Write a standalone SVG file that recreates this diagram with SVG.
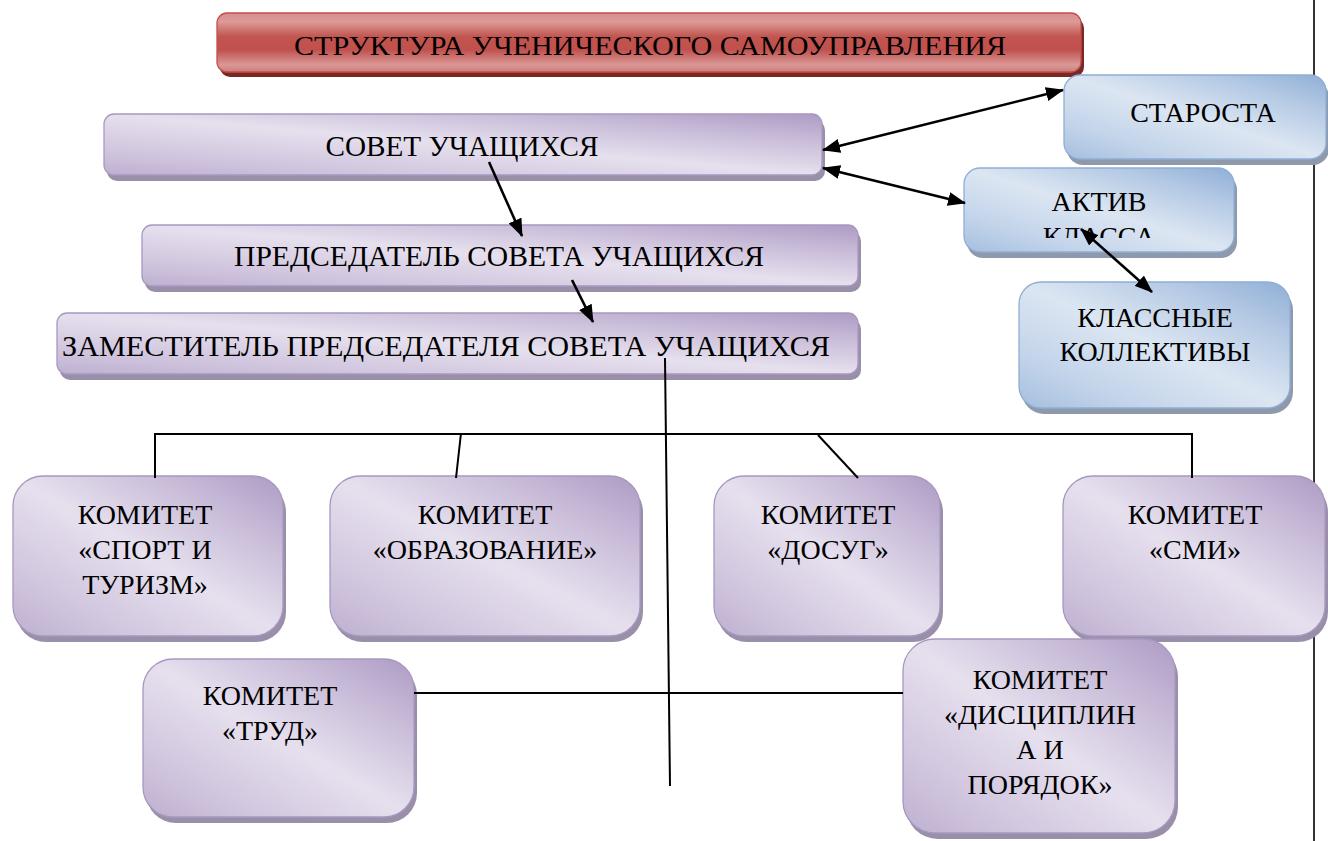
<svg xmlns="http://www.w3.org/2000/svg" width="1328" height="841" viewBox="0 0 1328 841">
<style>
.t{font-family:"Liberation Serif","Times New Roman",serif;font-size:28px;fill:#000;text-anchor:middle}
.tb{font-size:30px}
.bp{fill:url(#gP);stroke:#a898c0;stroke-width:1.3}
.sp{fill:#9a8fa9}
.bb{fill:url(#gB);stroke:#8eaed5;stroke-width:1.3}
.sb{fill:#8e9aab}
.ln{stroke:#000;fill:none;stroke-width:2}
.ar{stroke:#000;fill:none;stroke-width:2.6;marker-end:url(#ah);marker-start:url(#ah)}
.ar1{stroke:#000;fill:none;stroke-width:2.6;marker-end:url(#ah)}
</style>
<defs>
<linearGradient id="gP" x1="1" y1="0" x2="0" y2="1">
<stop offset="0" stop-color="#ad9bc4"/>
<stop offset="0.22" stop-color="#c8bbd8"/>
<stop offset="0.5" stop-color="#e6e0ee"/>
<stop offset="0.78" stop-color="#d2c7df"/>
<stop offset="1" stop-color="#beb0d1"/>
</linearGradient>
<linearGradient id="gB" x1="1" y1="0" x2="0" y2="1">
<stop offset="0" stop-color="#8fafd6"/>
<stop offset="0.22" stop-color="#b4c9e4"/>
<stop offset="0.5" stop-color="#dce6f2"/>
<stop offset="0.78" stop-color="#c3d4ea"/>
<stop offset="1" stop-color="#a5bfde"/>
</linearGradient>
<linearGradient id="gR" x1="0" y1="0" x2="0" y2="1">
<stop offset="0" stop-color="#d98f8d"/>
<stop offset="0.15" stop-color="#dc9a98"/>
<stop offset="0.4" stop-color="#c2554f"/>
<stop offset="0.62" stop-color="#c0504d"/>
<stop offset="0.88" stop-color="#d99896"/>
<stop offset="1" stop-color="#cf7b78"/>
</linearGradient>
<marker id="ah" markerUnits="userSpaceOnUse" markerWidth="18" markerHeight="14" viewBox="0 0 18 14" refX="17" refY="7" orient="auto-start-reverse">
<path d="M0,0 L18,7 L0,14 z" fill="#000"/>
</marker>
<clipPath id="clipAktiv"><rect x="964" y="168" width="270" height="70"/></clipPath>
</defs>
<rect x="0" y="0" width="1328" height="841" fill="#fff"/>
<line x1="1314" y1="0" x2="1314" y2="841" stroke="#000" stroke-width="1.6"/>

<g id="title">
<rect x="220" y="18" width="864" height="59" rx="10" fill="#7a2826"/>
<rect x="217" y="13" width="864" height="59" rx="10" fill="url(#gR)" stroke="#c0504d" stroke-width="1.3"/>
<text class="t" x="650" y="55" font-size="31" textLength="712" lengthAdjust="spacingAndGlyphs">СТРУКТУРА УЧЕНИЧЕСКОГО САМОУПРАВЛЕНИЯ</text>
</g>

<g id="sovet">
<rect class="sp" x="107" y="120" width="718" height="61" rx="10"/>
<rect class="bp" x="104" y="114" width="718" height="61" rx="10"/>
<text class="t tb" x="462" y="156" textLength="273" lengthAdjust="spacingAndGlyphs">СОВЕТ УЧАЩИХСЯ</text>
</g>

<g id="predsedatel">
<rect class="sp" x="145" y="231" width="716" height="61" rx="10"/>
<rect class="bp" x="142" y="225" width="716" height="61" rx="10"/>
<text class="t tb" x="499" y="266" textLength="530" lengthAdjust="spacingAndGlyphs">ПРЕДСЕДАТЕЛЬ СОВЕТА УЧАЩИХСЯ</text>
</g>

<g id="zamestitel">
<rect class="sp" x="60" y="319" width="801" height="61" rx="10"/>
<rect class="bp" x="57" y="313" width="801" height="61" rx="10"/>
<text class="t tb" x="446" y="356" textLength="768" lengthAdjust="spacingAndGlyphs">ЗАМЕСТИТЕЛЬ ПРЕДСЕДАТЕЛЯ СОВЕТА УЧАЩИХСЯ</text>
</g>

<g id="starosta">
<rect class="sb" x="1067" y="81" width="262" height="84" rx="16"/>
<rect class="bb" x="1064" y="75" width="262" height="84" rx="16"/>
<text class="t" x="1203" y="122">СТАРОСТА</text>
</g>

<g id="aktiv">
<rect class="sb" x="967" y="174" width="270" height="84" rx="16"/>
<rect class="bb" x="964" y="168" width="270" height="84" rx="16"/>
<text class="t" x="1099" y="211">АКТИВ</text>
<text class="t" x="1099" y="246" clip-path="url(#clipAktiv)">КЛАССА</text>
</g>

<g id="klassnye">
<rect class="sb" x="1022" y="288" width="271" height="126" rx="22"/>
<rect class="bb" x="1019" y="282" width="271" height="126" rx="22"/>
<text class="t" x="1155" y="327">КЛАССНЫЕ</text>
<text class="t" x="1155" y="361">КОЛЛЕКТИВЫ</text>
</g>

<g id="sport">
<rect class="sp" x="16" y="482" width="270" height="160" rx="30"/>
<rect class="bp" x="13" y="476" width="270" height="160" rx="30"/>
<text class="t" x="145" y="524">КОМИТЕТ</text>
<text class="t" x="145" y="559">«СПОРТ И</text>
<text class="t" x="145" y="594">ТУРИЗМ»</text>
</g>

<g id="obrazovanie">
<rect class="sp" x="333" y="482" width="310" height="160" rx="30"/>
<rect class="bp" x="330" y="476" width="310" height="160" rx="30"/>
<text class="t" x="485" y="524">КОМИТЕТ</text>
<text class="t" x="485" y="559">«ОБРАЗОВАНИЕ»</text>
</g>

<g id="dosug">
<rect class="sp" x="717" y="482" width="226" height="160" rx="30"/>
<rect class="bp" x="714" y="476" width="226" height="160" rx="30"/>
<text class="t" x="828" y="524">КОМИТЕТ</text>
<text class="t" x="828" y="559">«ДОСУГ»</text>
</g>

<g id="smi">
<rect class="sp" x="1066" y="482" width="262" height="160" rx="30"/>
<rect class="bp" x="1063" y="476" width="262" height="160" rx="30"/>
<text class="t" x="1195" y="524">КОМИТЕТ</text>
<text class="t" x="1195" y="559">«СМИ»</text>
</g>

<g id="trud">
<rect class="sp" x="146" y="665" width="271" height="158" rx="30"/>
<rect class="bp" x="143" y="659" width="271" height="158" rx="30"/>
<text class="t" x="270" y="705">КОМИТЕТ</text>
<text class="t" x="270" y="740">«ТРУД»</text>
</g>

<g id="disciplina">
<rect class="sp" x="906" y="645" width="272" height="194" rx="32"/>
<rect class="bp" x="903" y="639" width="272" height="194" rx="32"/>
<text class="t" x="1040" y="689">КОМИТЕТ</text>
<text class="t" x="1040" y="724">«ДИСЦИПЛИН</text>
<text class="t" x="1040" y="759">А И</text>
<text class="t" x="1040" y="794">ПОРЯДОК»</text>
</g>

<g id="connectors">
<line class="ar1" x1="489" y1="162" x2="522" y2="236"/>
<line class="ar1" x1="572" y1="280" x2="593" y2="322"/>
<line class="ar" x1="823" y1="150" x2="1063" y2="90"/>
<line class="ar" x1="823" y1="168" x2="965" y2="203"/>
<line class="ar" x1="1081" y1="229" x2="1152" y2="292"/>
<line class="ln" stroke-width="1.5" x1="665" y1="358" x2="670" y2="786"/>
<line class="ln" x1="155" y1="434" x2="1192" y2="434"/>
<line class="ln" x1="155" y1="433" x2="155" y2="478"/>
<line class="ln" stroke-width="1.5" x1="461" y1="433" x2="456" y2="478"/>
<line class="ln" stroke-width="1.5" x1="818" y1="435" x2="858" y2="478"/>
<line class="ln" stroke-width="1.5" x1="1192" y1="433" x2="1192" y2="478"/>
<line class="ln" x1="414" y1="693" x2="903" y2="693"/>
</g>
</svg>
